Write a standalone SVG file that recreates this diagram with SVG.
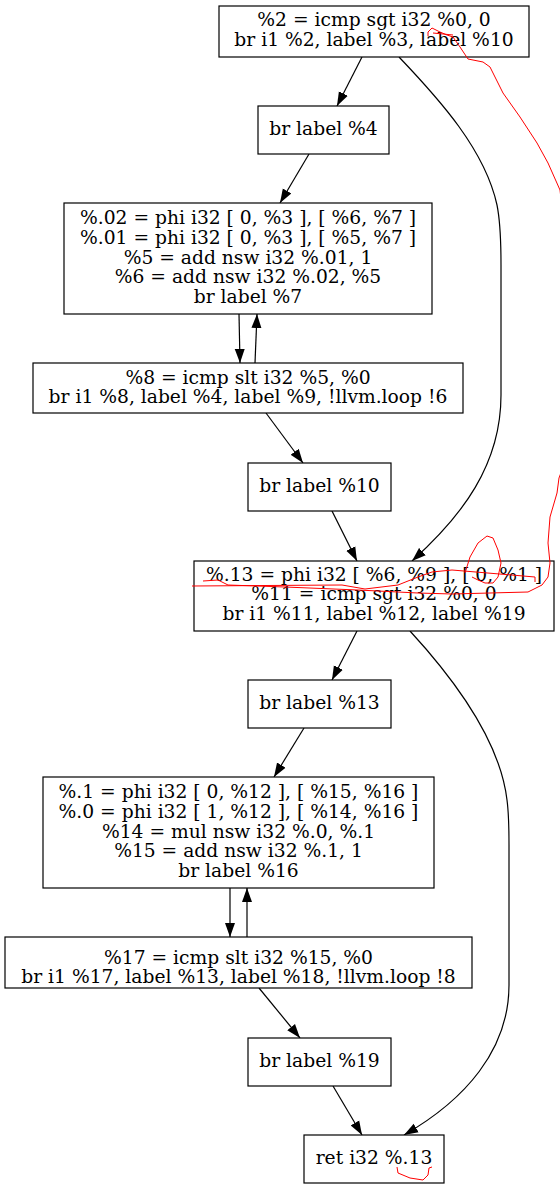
<svg xmlns="http://www.w3.org/2000/svg" width="560" height="1189" viewBox="0 0 560 1189">
<style>
.nd rect{fill:#fff;stroke:#000;stroke-width:1.2}
.nd text{font-family:"DejaVu Serif",serif;font-size:18.7px;text-anchor:middle;fill:#000}
.ed path{fill:none;stroke:#000;stroke-width:1.2;marker-end:url(#ah)}
.rd{fill:none;stroke:#f00;stroke-width:1;stroke-linejoin:round}
</style>
<defs>
<marker id="ah" markerWidth="15" markerHeight="11" refX="14" refY="5.5" orient="auto" markerUnits="userSpaceOnUse">
<path d="M0,0.5 L14,5.5 L0,10.5 z" fill="#000"/>
</marker>
</defs>
<rect width="560" height="1189" fill="#fff"/>
<g id="edges" class="ed">
<path d="M362,57 L337,106"/>
<path d="M399,57 C440,100 485,150 497,205 C501,225 501,245 501,265 L501,395 C501,465 462,516 412,561"/>
<path d="M309,154 L280,203"/>
<path d="M239,314 L240,363"/>
<path d="M255,363 L257,314"/>
<path d="M266,413 L303,463"/>
<path d="M332,511 L357,561"/>
<path d="M357,631 L332,680"/>
<path d="M410,631 C455,680 500,740 507,800 C509,815 509,830 509,845 L509,985 C509,1050 465,1100 404,1135"/>
<path d="M304,728 L274,777"/>
<path d="M230,888 L230,937"/>
<path d="M247,937 L247,888"/>
<path d="M259,988 L300,1038"/>
<path d="M333,1086 L362,1135"/>
</g>
<g id="n2" class="nd"><rect x="219" y="6" width="310" height="51"/><text x="374" y="26">%2 = icmp sgt i32 %0, 0</text><text x="374" y="45.5">br i1 %2, label %3, label %10</text></g>
<g id="n3" class="nd"><rect x="258" y="106" width="131" height="48"/><text x="323.5" y="135">br label %4</text></g>
<g id="n4" class="nd"><rect x="64" y="203" width="368" height="111"/><text x="248" y="224.3">%.02 = phi i32 [ 0, %3 ], [ %6, %7 ]</text><text x="248" y="243.9">%.01 = phi i32 [ 0, %3 ], [ %5, %7 ]</text><text x="248" y="263.5">%5 = add nsw i32 %.01, 1</text><text x="248" y="283.1">%6 = add nsw i32 %.02, %5</text><text x="248" y="302.7">br label %7</text></g>
<g id="n7" class="nd"><rect x="33" y="363" width="430" height="50"/><text x="248" y="384">%8 = icmp slt i32 %5, %0</text><text x="248" y="403">br i1 %8, label %4, label %9, !llvm.loop !6</text></g>
<g id="n9" class="nd"><rect x="248" y="463" width="143" height="48"/><text x="319.5" y="492">br label %10</text></g>
<g id="n10" class="nd"><rect x="194" y="561" width="360" height="70"/><text x="374" y="580.5">%.13 = phi i32 [ %6, %9 ], [ 0, %1 ]</text><text x="374" y="600">%11 = icmp sgt i32 %0, 0</text><text x="374" y="619.5">br i1 %11, label %12, label %19</text></g>
<g id="n12" class="nd"><rect x="248" y="680" width="143" height="48"/><text x="319.5" y="709">br label %13</text></g>
<g id="n13" class="nd"><rect x="43" y="777" width="391" height="111"/><text x="238.5" y="798">%.1 = phi i32 [ 0, %12 ], [ %15, %16 ]</text><text x="238.5" y="818">%.0 = phi i32 [ 1, %12 ], [ %14, %16 ]</text><text x="238.5" y="837.5">%14 = mul nsw i32 %.0, %.1</text><text x="238.5" y="857">%15 = add nsw i32 %.1, 1</text><text x="238.5" y="877">br label %16</text></g>
<g id="n16" class="nd"><rect x="5" y="937" width="467" height="51"/><text x="238.5" y="964">%17 = icmp slt i32 %15, %0</text><text x="238.5" y="983">br i1 %17, label %13, label %18, !llvm.loop !8</text></g>
<g id="n18" class="nd"><rect x="248" y="1038" width="143" height="48"/><text x="319.5" y="1067">br label %19</text></g>
<g id="n19" class="nd"><rect x="304" y="1135" width="140" height="48"/><text x="374" y="1164">ret i32 %.13</text></g>
<g id="annotations">
<polyline class="rd" points="428,36 428,32 432,28 440,32 447,35 453,37 460,47 468,59 483,62 490,67 503,93 520,117 537,143 548,163 560,190 568,260 568,400 562,470 559,478 557,493 550,517 548,543 550,563 548,577 542,585 528,592 452,594 418,593 358,590 285,587 228,585 218,580 203,581"/>
<polyline class="rd" points="433,33 453,35"/>
<polyline class="rd" points="192,586 342,585 365,589 398,585 418,577 432,572 452,570 535,577 535,582"/>
<polyline class="rd" points="465,573 470,557 478,543 487,536 493,538 498,550 501,563 498,577 493,583 485,583 478,580 472,577"/>
<polyline class="rd" points="397,1167 398,1173 410,1178 423,1180 428,1175 429,1168 432,1167"/>
</g>
</svg>
